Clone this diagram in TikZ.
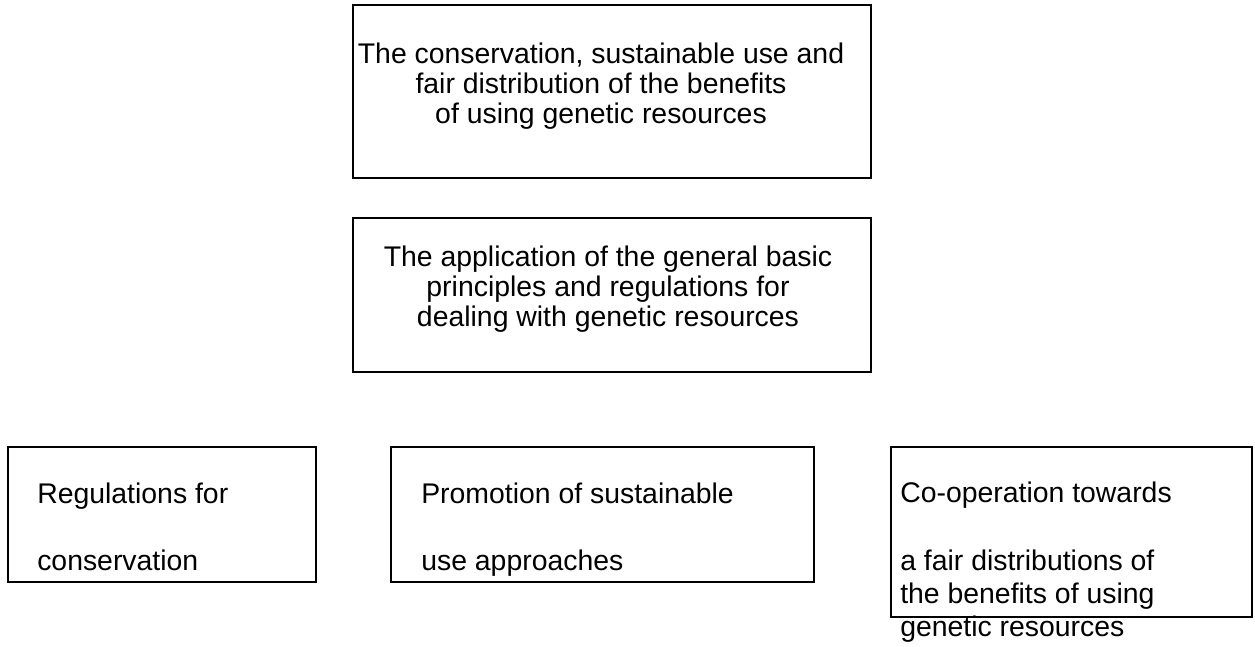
\documentclass[tikz,border=0pt]{standalone}
\usepackage{fontspec}
\setmainfont{Liberation Sans}
\usepackage{tikz}
\usetikzlibrary{positioning, fit}

\tikzset{
  box/.style = {draw, line width=1.1pt, inner sep=0pt},
  txt/.style = {inner sep=0pt, font=\fontsize{21.3}{22.5}\selectfont},
  txtwide/.style = {inner sep=0pt, font=\fontsize{21.3}{24.4}\selectfont}
}

\begin{document}
\begin{tikzpicture}[x=0.75pt, y=-0.75pt]
\useasboundingbox (0,0) rectangle (1255,646);

% goal and principles
\node[box, fit={(353,5) (871,178)}] (goal) {};
\node[txt, align=center, anchor=base] (goaltext) at (601,123) {The conservation, sustainable use and\\
    fair distribution of the benefits\\
    of using genetic resources};

\node[box, fit={(353,218) (871,372)}] (principles) {};
\node[txt, align=center, anchor=base] (principlestext) at (608,326) {The application of the general basic\\
    principles and regulations for\\
    dealing with genetic resources};

% the three fields
\node[box, fit={(8,447) (316,582)}] (conservation) {};
\node[txt, align=left, anchor=base west] (conservationtext) at (37,570) {Regulations for\\[27.7pt]
    conservation};

\node[box, fit={(391,447) (814,582)}] (sustainable) {};
\node[txt, align=left, anchor=base west] (sustainabletext) at (421,570) {Promotion of sustainable\\[27.7pt]
    use approaches};

\node[box, fit={(891,447) (1252,617)}] (cooperation) {};
\node[txtwide, align=left, anchor=base west] (cooperationtext) at (900,636) {Co-operation towards\\[26.6pt]
    a fair distributions of\\
    the benefits of using\\
    genetic resources};
\end{tikzpicture}
\end{document}
